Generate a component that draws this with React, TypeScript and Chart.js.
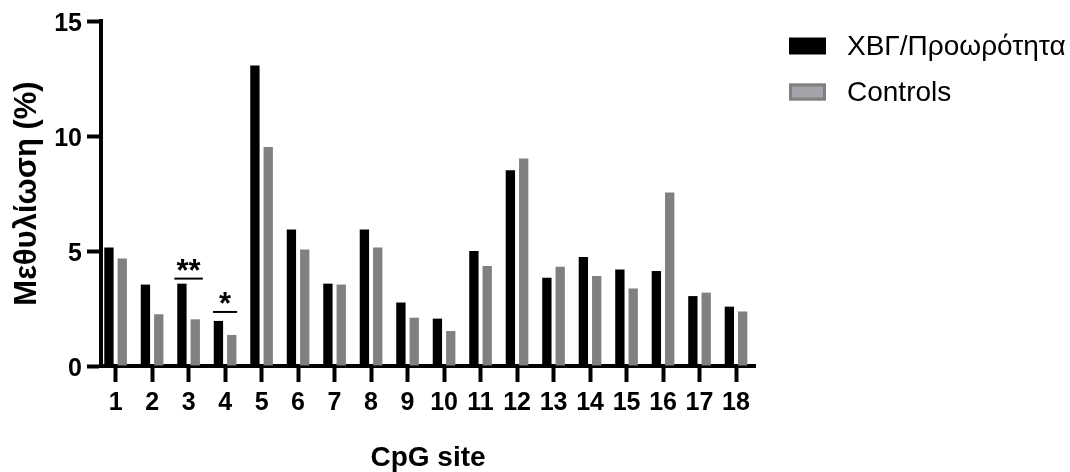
import React, { useEffect, useRef } from "react";
import { Chart, registerables } from "chart.js";

Chart.register(...registerables);

// ---- data ----
const categories = ["1", "2", "3", "4", "5", "6", "7", "8", "9", "10", "11", "12", "13", "14", "15", "16", "17", "18"];
const patientsLabel = "ΧΒΓ/Προωρότητα";
const controlsLabel = "Controls";
const patients = [5.15, 3.54, 3.58, 1.96, 13.07, 5.94, 3.58, 5.94, 2.76, 2.06, 5.0, 8.51, 3.84, 4.74, 4.2, 4.13, 3.04, 2.58];
const controls = [4.67, 2.25, 2.03, 1.35, 9.52, 5.07, 3.54, 5.15, 2.1, 1.52, 4.35, 9.02, 4.31, 3.91, 3.37, 7.54, 3.19, 2.37];
const yTicks = [0, 5, 10, 15];
const sigSites = [3, 4];
const sigMarks = ["**", "*"];
const sigLevels = [3.8, 2.35];
const yTitle = "Μεθυλίωση (%)";
const xTitle = "CpG site";

const FONT = "'Liberation Sans', Arial, Helvetica, sans-serif";
const BLACK = "#000000";
const GRAY = "#808080";
const GRAY_LIGHT = "#a3a3a9";

const sigPlugin = {
  id: "sigPlugin",
  afterDatasetsDraw(chart: any) {
    const { ctx } = chart;
    const x = chart.scales.x;
    const y = chart.scales.y;
    ctx.save();
    sigSites.forEach((site, i) => {
      const half = sigMarks[i].length > 1 ? 0.39 : 0.33;
      const x0 = x.getPixelForValue(site - half);
      const x1 = x.getPixelForValue(site + half);
      const yy = y.getPixelForValue(sigLevels[i]);
      ctx.strokeStyle = BLACK;
      ctx.lineWidth = 2;
      ctx.beginPath();
      ctx.moveTo(x0, yy);
      ctx.lineTo(x1, yy);
      ctx.stroke();
      ctx.fillStyle = BLACK;
      ctx.font = `bold 31px ${FONT}`;
      ctx.textAlign = "center";
      ctx.textBaseline = "alphabetic";
      ctx.fillText(sigMarks[i], (x0 + x1) / 2, yy + 2);
    });
    ctx.restore();
  },
};

const legendPlugin = {
  id: "customLegend",
  afterDraw(chart: any) {
    const { ctx } = chart;
    ctx.save();
    const boxX = 789;
    const boxW = 37;
    const boxH = 17;
    const textX = 847;
    const rowY = [46, 92];
    chart.data.datasets.forEach((ds: any, i: number) => {
      const cy = rowY[i];
      if (i === 0) {
        ctx.fillStyle = ds.backgroundColor;
        ctx.fillRect(boxX, cy - boxH / 2, boxW, boxH);
      } else {
        ctx.fillStyle = GRAY_LIGHT;
        ctx.fillRect(boxX, cy - boxH / 2, boxW, boxH);
        ctx.strokeStyle = GRAY;
        ctx.lineWidth = 3;
        ctx.strokeRect(boxX + 1.5, cy - boxH / 2 + 1.5, boxW - 3, boxH - 3);
      }
      ctx.fillStyle = "#000";
      ctx.font = `28px ${FONT}`;
      ctx.textAlign = "left";
      ctx.textBaseline = "middle";
      ctx.fillText(ds.label, textX, cy + 1);
    });
    ctx.restore();
  },
};

export default function App() {
  const canvasRef = useRef<HTMLCanvasElement | null>(null);

  useEffect(() => {
    const canvas = canvasRef.current;
    if (!canvas) return;
    const chart = new Chart(canvas, {
      type: "bar",
      data: {
        datasets: [
          {
            label: patientsLabel,
            data: patients.map((v, i) => ({ x: i + 1, y: v })),
            backgroundColor: BLACK,
            borderWidth: 0,
            categoryPercentage: 0.73,
            barPercentage: 0.7,
          },
          {
            label: controlsLabel,
            data: controls.map((v, i) => ({ x: i + 1, y: v })),
            backgroundColor: GRAY,
            borderWidth: 0,
            categoryPercentage: 0.73,
            barPercentage: 0.7,
          },
        ],
      },
      options: {
        animation: false,
        responsive: false,
        devicePixelRatio: 1,
        layout: { padding: { left: 0, right: 315, top: 21, bottom: 0 } },
        plugins: {
          legend: { display: false },
          tooltip: { enabled: false },
        },
        scales: {
          x: {
            type: "linear",
            min: 0.6,
            max: 18.52,
            offset: false,
            afterBuildTicks: (scale: any) => {
              scale.ticks = categories.map((_, i) => ({ value: i + 1 }));
            },
            afterFit: (scale: any) => {
              scale.height = 106;
            },
            ticks: {
              includeBounds: false,
              autoSkip: false,
              maxRotation: 0,
              padding: 6,
              color: BLACK,
              font: { family: FONT, size: 25, weight: "bold" },
              callback: (_v: any, index: number) => categories[index],
            },
            grid: {
              offset: false,
              drawOnChartArea: false,
              drawTicks: true,
              tickLength: 16,
              tickWidth: 4,
              tickColor: BLACK,
            },
            border: { display: true, color: BLACK, width: 4 },
            title: {
              display: true,
              text: xTitle,
              color: BLACK,
              font: { family: FONT, size: 28, weight: "bold", lineHeight: 0.95 },
              padding: { top: 0, bottom: 0 },
            },
          },
          y: {
            min: 0,
            max: 15,
            afterBuildTicks: (scale: any) => {
              scale.ticks = yTicks.map((v) => ({ value: v }));
            },
            afterFit: (scale: any) => {
              scale.width = 101;
            },
            ticks: {
              padding: 5,
              labelOffset: 3,
              color: BLACK,
              font: { family: FONT, size: 25, weight: "bold" },
            },
            grid: {
              offset: false,
              drawOnChartArea: false,
              drawTicks: true,
              tickLength: 14,
              tickWidth: 4,
              tickColor: BLACK,
            },
            border: { display: true, color: BLACK, width: 4 },
            title: {
              display: true,
              text: yTitle,
              color: BLACK,
              font: { family: FONT, size: 31, weight: "bold", lineHeight: 1.2 },
              padding: { top: 9, bottom: 0 },
            },
          },
        },
      },
      plugins: [sigPlugin, legendPlugin],
    } as any);
    return () => chart.destroy();
  }, []);

  return (
    <div style={{ position: "fixed", left: 0, top: 0, width: 1070, height: 472, background: "#fff" }}>
      <canvas ref={canvasRef} width={1070} height={472} style={{ display: "block" }} />
    </div>
  );
}
